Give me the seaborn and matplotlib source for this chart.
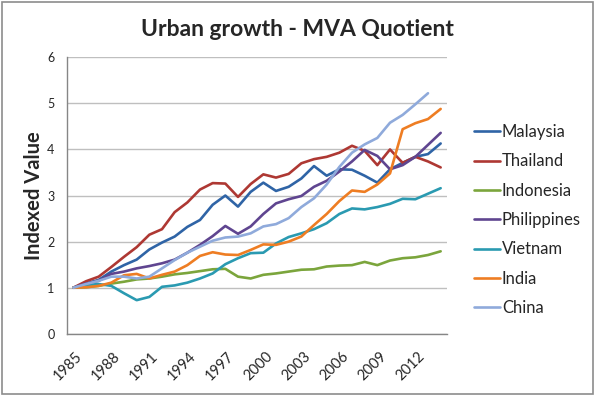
import matplotlib
matplotlib.use("Agg")
import numpy as np
import pandas as pd
import matplotlib.pyplot as plt
import matplotlib.transforms as mtransforms
import seaborn as sns
from matplotlib.patches import Rectangle

sns.set_style("white")
plt.rcParams['font.family'] = ['Lato', 'DejaVu Sans']

YEARS = list(range(1985, 2015))
XTICK_YEARS = list(range(1985, 2013, 3))

malaysia = [1.00, 1.09, 1.17, 1.35, 1.49, 1.61, 1.83, 1.98, 2.11, 2.32, 2.47, 2.80, 3.00, 2.76, 3.08,
            3.28, 3.10, 3.19, 3.37, 3.64, 3.43, 3.57, 3.56, 3.43, 3.28, 3.57, 3.71, 3.84, 3.90, 4.13]
thailand = [1.00, 1.14, 1.24, 1.45, 1.67, 1.88, 2.15, 2.27, 2.64, 2.85, 3.13, 3.27, 3.26, 2.97, 3.25,
            3.46, 3.39, 3.47, 3.70, 3.79, 3.84, 3.93, 4.08, 3.97, 3.66, 4.00, 3.71, 3.84, 3.74, 3.61]
indonesia = [1.00, 1.01, 1.04, 1.09, 1.13, 1.18, 1.20, 1.24, 1.29, 1.32, 1.36, 1.40, 1.41, 1.24, 1.20,
             1.28, 1.31, 1.35, 1.39, 1.40, 1.46, 1.48, 1.49, 1.56, 1.49, 1.59, 1.64, 1.66, 1.71, 1.79]
philippines = [1.00, 1.09, 1.15, 1.30, 1.35, 1.42, 1.47, 1.53, 1.61, 1.76, 1.93, 2.12, 2.34, 2.17, 2.33,
               2.60, 2.83, 2.92, 2.99, 3.19, 3.32, 3.52, 3.74, 3.99, 3.86, 3.57, 3.66, 3.84, 4.10, 4.36]
vietnam = [1.00, 1.06, 1.08, 1.04, 0.88, 0.73, 0.80, 1.02, 1.05, 1.11, 1.20, 1.31, 1.51, 1.64, 1.75,
           1.76, 1.96, 2.10, 2.18, 2.27, 2.40, 2.60, 2.72, 2.70, 2.75, 2.82, 2.93, 2.92, 3.04, 3.16]
india = [1.00, 1.01, 1.04, 1.11, 1.27, 1.30, 1.20, 1.28, 1.35, 1.49, 1.69, 1.77, 1.72, 1.71, 1.82,
         1.94, 1.93, 2.00, 2.11, 2.36, 2.60, 2.88, 3.11, 3.08, 3.24, 3.48, 4.44, 4.57, 4.66, 4.88]
china = [1.00, 1.08, 1.15, 1.24, 1.24, 1.20, 1.24, 1.42, 1.60, 1.76, 1.89, 2.02, 2.09, 2.11, 2.18,
         2.33, 2.38, 2.51, 2.75, 2.94, 3.24, 3.62, 3.93, 4.11, 4.25, 4.58, 4.75, 4.98, 5.22]

COUNTRIES = ["Malaysia", "Thailand", "Indonesia", "Philippines", "Vietnam", "India", "China"]
SERIES = [malaysia, thailand, indonesia, philippines, vietnam, india, china]
COLORS = ["#2F64A6", "#AE3833", "#7BA53C", "#5F4590", "#2A9AB1", "#EE7D23", "#8FAADB"]

frames = []
for name, vals in zip(COUNTRIES, SERIES):
    frames.append(pd.DataFrame({"Year": YEARS[:len(vals)], "Value": vals, "Country": name}))
df = pd.concat(frames, ignore_index=True)

fig = plt.figure(figsize=(5.95, 3.96), dpi=100)
ax = fig.add_axes([67 / 595, 1 - 333.8 / 396, 380 / 595, (333.8 - 57.3) / 396])

sns.lineplot(data=df, x="Year", y="Value", hue="Country", hue_order=COUNTRIES,
             palette=dict(zip(COUNTRIES, COLORS)), linewidth=1.9, ax=ax)

ax.set_xlim(1984.5, 2014.5)
ax.set_ylim(0, 6)
ax.set_yticks(range(7))
ax.set_xticks(XTICK_YEARS)
ax.set_xticklabels([str(y) for y in XTICK_YEARS], rotation=45, ha="right", rotation_mode="anchor")
ax.set_xticks(np.arange(1984.5, 2015, 1), minor=True)
ax.tick_params(axis="x", which="major", length=0, labelsize=10.5, pad=11)
ax.tick_params(axis="x", which="minor", length=4, color="#868686", width=0.8)
ax.tick_params(axis="y", length=4, color="#868686", width=0.8, labelsize=9, pad=5)
shift = mtransforms.ScaledTranslation(2 / 100, 0, fig.dpi_scale_trans)
for lab in ax.get_xticklabels():
    lab.set_transform(lab.get_transform() + shift)
ax.set_xlabel("")
ax.set_ylabel("")
ax.grid(axis="y", color="#BFBFBF", linewidth=1)
ax.set_axisbelow(True)
for s in ["top", "right"]:
    ax.spines[s].set_visible(False)
for s in ["left", "bottom"]:
    ax.spines[s].set_color("#868686")
    ax.spines[s].set_linewidth(1)

handles, labels = ax.get_legend_handles_labels()
ax.legend(handles, labels, loc="upper left", bbox_to_anchor=(474 / 595, 1 - 124 / 396),
          bbox_transform=fig.transFigure, frameon=False, fontsize=12,
          handlelength=1.56, handletextpad=0.12, labelspacing=0.8,
          borderpad=0, borderaxespad=0)

fig.text(297 / 595, 1 - 29 / 396, "Urban growth - MVA Quotient", ha="center", va="center",
         fontsize=16.5, fontweight="bold")
fig.text(34 / 595, 1 - 196 / 396, "Indexed Value", ha="center", va="center", rotation=90,
         fontsize=14.5, fontweight="bold")

fig.patches.append(Rectangle((2 / 595, 2 / 396), 591 / 595, 392 / 396, transform=fig.transFigure,
                             fill=False, edgecolor="#8C8C8C", linewidth=1.2))

fig.savefig("out.png", dpi=100)
